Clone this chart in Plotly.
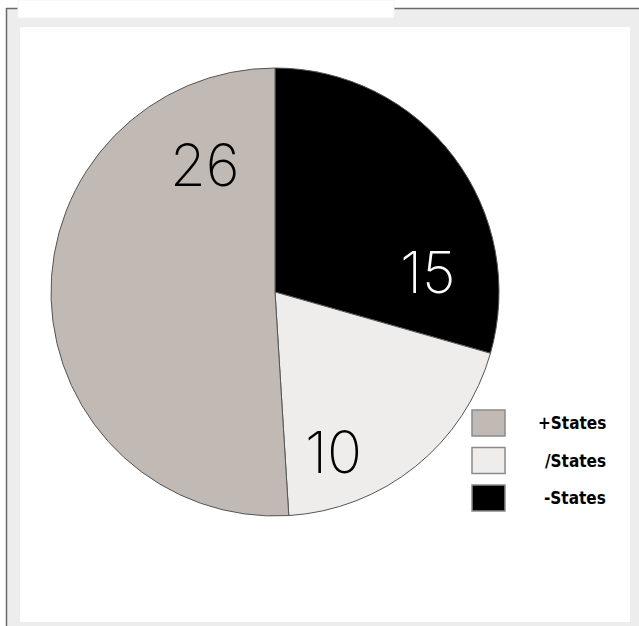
import plotly.graph_objects as go

W, H = 639, 626

# ---- data ----
labels = ["+States", "/States", "-States"]
values = [26, 10, 15]
colors = ["#c1b9b3", "#efedeb", "#000000"]
value_text_colors = ["#000000", "#000000", "#ffffff"]

# label positions (pixels) for the values inside slices
value_label_pos = [(205, 165), (333, 452), (428, 272)]


def px(x):
    return x / W


def py(y):
    return 1 - y / H


fig = go.Figure()

# slices drawn clockwise from 12 o'clock, starting with the last category
fig.add_trace(go.Pie(
    labels=labels[::-1],
    values=values[::-1],
    sort=False,
    direction="clockwise",
    rotation=0,
    marker=dict(colors=colors[::-1], line=dict(color="#555555", width=1)),
    textinfo="none",
    hoverinfo="label+value",
    showlegend=False,
    domain=dict(x=[px(51), px(499)], y=[py(516), py(68)]),
))

shapes = []
# outer gray frame
shapes.append(dict(type="rect", xref="paper", yref="paper", x0=px(7), x1=px(639), y0=py(626), y1=py(8),
                   fillcolor="#ededed", line=dict(width=0), layer="below"))
# dark frame lines
shapes.append(dict(type="line", xref="paper", yref="paper", x0=px(6.5), x1=px(6.5), y0=py(626), y1=py(8),
                   line=dict(color="#6a6a6a", width=1.5), layer="below"))
shapes.append(dict(type="line", xref="paper", yref="paper", x0=px(6), x1=px(20), y0=py(8.5), y1=py(8.5),
                   line=dict(color="#6a6a6a", width=1.5), layer="below"))
shapes.append(dict(type="line", xref="paper", yref="paper", x0=px(393), x1=px(639), y0=py(8.5), y1=py(8.5),
                   line=dict(color="#6a6a6a", width=1.5), layer="below"))
# top white tab
shapes.append(dict(type="rect", xref="paper", yref="paper", x0=px(18), x1=px(394), y0=py(18), y1=py(0),
                   fillcolor="#ffffff", line=dict(color="#f3f3f3", width=1), layer="below"))
# inner white panel
shapes.append(dict(type="rect", xref="paper", yref="paper", x0=px(20), x1=px(630), y0=py(622), y1=py(27),
                   fillcolor="#ffffff", line=dict(width=0), layer="below"))

annotations = []
# value labels
for v, (x, y), c in zip(values, value_label_pos, value_text_colors):
    annotations.append(dict(x=px(x), y=py(y), xref="paper", yref="paper", text=str(v), showarrow=False,
                            xanchor="center", yanchor="middle",
                            font=dict(family="Inter", size=58, color=c, weight=200)))

# custom legend
leg_x0, leg_x1 = 472, 505
leg_y0 = 410
leg_step = 37.5
leg_h = 26
for i, (lab, col) in enumerate(zip(labels, colors)):
    y0 = leg_y0 + i * leg_step
    shapes.append(dict(type="rect", xref="paper", yref="paper", x0=px(leg_x0), x1=px(leg_x1),
                       y0=py(y0 + leg_h), y1=py(y0), fillcolor=col,
                       line=dict(color="#8a8a8a", width=1.5)))
    annotations.append(dict(x=px(608), y=py(y0 + leg_h / 2), xref="paper", yref="paper", text=lab,
                            showarrow=False, xanchor="right", yanchor="middle",
                            font=dict(family="DejaVu Sans Condensed", size=17, color="#000000", weight="bold")))

fig.update_layout(
    width=W, height=H,
    margin=dict(l=0, r=0, t=0, b=0),
    paper_bgcolor="#ffffff",
    plot_bgcolor="#ffffff",
    shapes=shapes,
    annotations=annotations,
    showlegend=False,
)

fig.write_html("out.html")
